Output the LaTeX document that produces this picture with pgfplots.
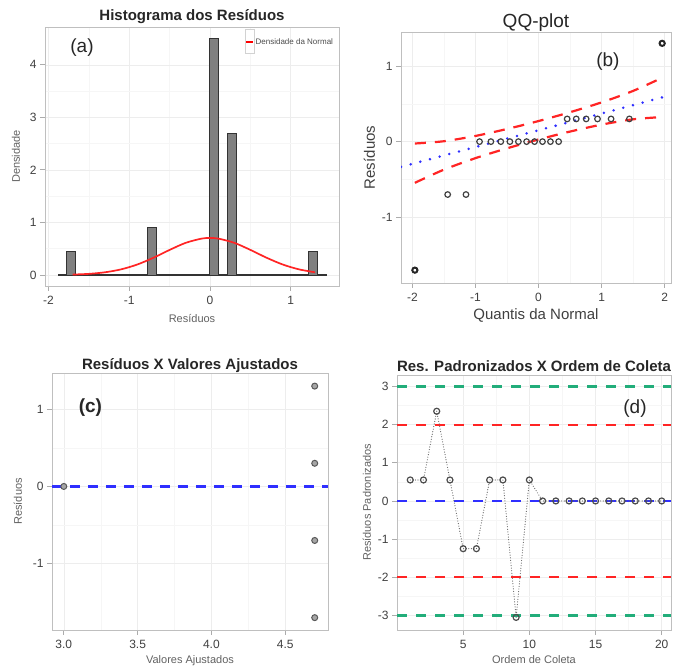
\documentclass[border=0pt]{standalone}
\usepackage{pgfplots}
\pgfplotsset{compat=1.18}
\usepackage{fontspec}
\setmainfont{Liberation Sans}

\definecolor{barfill}{HTML}{808080}
\definecolor{barline}{HTML}{333333}
\definecolor{ggred}{HTML}{FF2424}
\definecolor{ggblue}{HTML}{2F2FFF}
\definecolor{gggreen}{HTML}{22AD7A}

\tikzset{tag/.style={font=\fontsize{19}{19}\selectfont, text=black!85}}
\pgfplotsset{
  gg/.style={
    scale only axis,
    grid=both,
    minor tick num=1,
    major grid style={gray!14, line width=0.6pt},
    minor grid style={gray!7, line width=0.4pt},
    axis line style={gray!50, line width=0.7pt},
    tick pos=left, tick align=outside,
    major tick length=5pt, minor tick length=0pt,
    tick style={gray!65, line width=0.8pt},
    ticklabel style={text=black!75, font=\fontsize{12}{12}\selectfont},
    xticklabel style={yshift=-2pt},
    /pgf/number format/assume math mode=true,
    label style={text=black!62, font=\fontsize{11}{11}\selectfont},
    xlabel style={yshift=0pt},
    title style={font=\bfseries\fontsize{15}{15}\selectfont, text=black!85, yshift=-6pt},
  },
}

\begin{document}
\begin{tikzpicture}[x=1pt, y=1pt]
\useasboundingbox (0,0) rectangle (673,671);

% (a) histograma
\begin{axis}[gg, at={(45pt,385pt)}, anchor=south west,
    width=294pt, height=259pt,
    xmin=-2.043, xmax=1.597, ymin=-0.21, ymax=4.72,
    xtick={-2,-1,0,1}, ytick={0,1,2,3,4},
    title={Histograma dos Resíduos},
    xlabel={Resíduos}, ylabel={Densidade},
    xlabel style={yshift=-3pt},
    ylabel style={yshift=3pt}]
  \addplot[barline, line width=1.4pt] coordinates {(-1.88,0) (1.45,0)};
  \addplot[ybar, bar width=0.111, fill=barfill, draw=barline, line width=0.9pt]
    coordinates {(-1.72,0.45) (-0.72,0.9) (0.05,4.5) (0.275,2.7) (1.28,0.45)};
  \addplot[ggred, line width=1.7pt, smooth] coordinates {
    (-1.7,0.008) (-1.5,0.021) (-1.3,0.051) (-1.1,0.107) (-0.9,0.199)
    (-0.7,0.328) (-0.5,0.477) (-0.3,0.612) (-0.1,0.693) (0,0.704)
    (0.1,0.693) (0.3,0.612) (0.5,0.477) (0.7,0.328) (0.9,0.199)
    (1.1,0.107) (1.3,0.051)};
  \node[tag] at (axis cs:-1.585,4.32) {(a)};
  \draw[gray!35, line width=0.5pt, fill=white] (axis cs:0.433,4.229) rectangle (axis cs:0.545,4.686);
  \draw[red, line width=2pt] (axis cs:0.45,4.44) -- (axis cs:0.53,4.44);
  \node[anchor=west, inner sep=1pt, text=black!70, font=\fontsize{8}{8}\selectfont]
    at (axis cs:0.55,4.44) {Densidade da Normal};
\end{axis}

% (b) QQ-plot
\begin{axis}[gg, at={(401pt,388pt)}, anchor=south west,
    width=270pt, height=251pt,
    xmin=-2.18, xmax=2.10, ymin=-1.87, ymax=1.45,
    xtick={-2,-1,0,1,2}, ytick={-1,0,1},
    title={QQ-plot},
    title style={font=\fontsize{19}{19}\selectfont, text=black!85, yshift=-3pt},
    xlabel={Quantis da Normal}, ylabel={Resíduos},
    label style={text=black!75, font=\fontsize{15}{15}\selectfont}]
  \addplot[ggred, line width=2.2pt, dash pattern=on 11pt off 9pt, smooth] coordinates {
    (-1.96,-0.025) (-1.5,0.005) (-1,0.075) (-0.5,0.167) (0,0.272)
    (0.5,0.389) (1,0.519) (1.5,0.671) (1.96,0.845)};
  \addplot[ggred, line width=2.2pt, dash pattern=on 11pt off 9pt, smooth] coordinates {
    (-1.96,-0.545) (-1.5,-0.371) (-1,-0.219) (-0.5,-0.089) (0,0.028)
    (0.5,0.133) (1,0.225) (1.5,0.295) (1.96,0.325)};
  \addplot[ggblue, line width=2.8pt, line cap=round, dash pattern=on 0pt off 10pt]
    coordinates {(-2.18,-0.334) (2.10,0.616)};
  \addplot[only marks, mark=o, mark size=2.8pt, draw=black!75, line width=1.2pt]
    coordinates {
    (-1.44,-0.7) (-1.15,-0.7) (-0.935,0) (-0.755,0) (-0.598,0) (-0.454,0)
    (-0.319,0) (-0.189,0) (-0.063,0) (0.063,0) (0.189,0) (0.319,0)
    (0.454,0.3) (0.598,0.3) (0.755,0.3) (0.935,0.3) (1.15,0.3) (1.44,0.3)};
  \addplot[only marks, mark=o, mark size=2.6pt, draw=black!85, line width=2pt]
    coordinates {(-1.96,-1.7) (1.96,1.3)};
  \node[tag] at (axis cs:1.10,1.06) {(b)};
\end{axis}

% (c) residuos x ajustados
\begin{axis}[gg, at={(52pt,41pt)}, anchor=south west,
    width=276pt, height=257pt,
    xmin=2.92, xmax=4.79, ymin=-1.86, ymax=1.47,
    xtick={3,3.5,4,4.5}, ytick={-1,0,1},
    xticklabel style={/pgf/number format/.cd, fixed, fixed zerofill, precision=1},
    title={Resíduos X Valores Ajustados},
    title style={yshift=-3pt},
    xlabel={Valores Ajustados}, ylabel={Resíduos},
    ylabel style={yshift=4pt}]
  \addplot[ggblue, line width=2.4pt, dash pattern=on 10pt off 8pt]
    coordinates {(2.92,0) (4.79,0)};
  \addplot[only marks, mark=*, mark size=3pt, fill=gray!70, draw=black!65, line width=1pt]
    coordinates {(3.0,0) (4.7,1.3) (4.7,0.3) (4.7,-0.7) (4.7,-1.7)};
  \node[tag, font=\bfseries\fontsize{19}{19}\selectfont] at (axis cs:3.18,1.02) {(c)};
\end{axis}

% (d) residuos padronizados x ordem
\begin{axis}[gg, at={(397pt,41pt)}, anchor=south west,
    width=274pt, height=255pt,
    xmin=0, xmax=20.7, ymin=-3.38, ymax=3.3,
    xtick={5,10,15,20}, ytick={-3,-2,-1,0,1,2,3},
    title={Res. Padronizados X Ordem de Coleta},
    xlabel={Ordem de Coleta}, ylabel={Resíduos Padronizados}]
  \addplot[gggreen, line width=2.2pt, dash pattern=on 10pt off 9pt] coordinates {(0,3) (20.7,3)};
  \addplot[gggreen, line width=2.2pt, dash pattern=on 10pt off 9pt] coordinates {(0,-3) (20.7,-3)};
  \addplot[ggred, line width=2.2pt, dash pattern=on 10pt off 9pt] coordinates {(0,2) (20.7,2)};
  \addplot[ggred, line width=2.2pt, dash pattern=on 10pt off 9pt] coordinates {(0,-2) (20.7,-2)};
  \addplot[ggblue, line width=2.2pt, dash pattern=on 10pt off 9pt] coordinates {(0,0) (20.7,0)};
  \addplot[black!60, line width=1.2pt, line cap=round, dash pattern=on 0pt off 2.6pt,
    mark=o, mark size=3pt,
    mark options={solid, draw=black!70, fill=gray!60, line width=1.2pt}]
    coordinates {
    (1,0.55) (2,0.55) (3,2.35) (4,0.55) (5,-1.25) (6,-1.25) (7,0.55)
    (8,0.55) (9,-3.05) (10,0.55) (11,0) (12,0) (13,0) (14,0) (15,0)
    (16,0) (17,0) (18,0) (19,0) (20,0)};
  \node[tag] at (axis cs:17.98,2.43) {(d)};
\end{axis}
\end{tikzpicture}
\end{document}
